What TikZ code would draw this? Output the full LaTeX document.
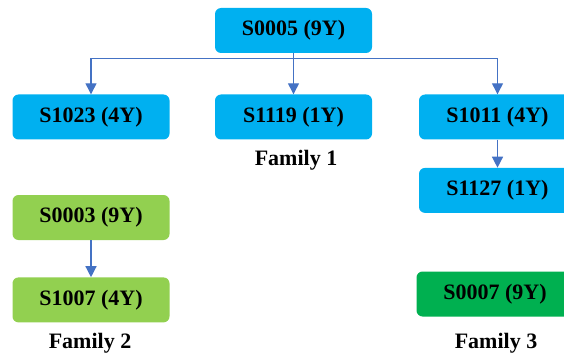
\documentclass[tikz,border=0pt]{standalone}
\usepackage{fontspec}
\setmainfont{Liberation Serif}
\usetikzlibrary{positioning, arrows.meta}
\definecolor{skyblue}{HTML}{00B0F0}
\definecolor{lightgreen}{HTML}{92D050}
\definecolor{darkgreen}{HTML}{00B050}
\definecolor{linkblue}{HTML}{4472C4}

\begin{document}
\begin{tikzpicture}[x=1pt, y=-1pt, node distance=28pt,
		sample/.style={rectangle, rounded corners=6pt, minimum width=157pt, minimum height=45pt, inner sep=0pt, font=\fontsize{22}{25}\selectfont\bfseries},
		blue/.style={sample, fill=skyblue},
		lgreen/.style={sample, fill=lightgreen},
		dgreen/.style={sample, fill=darkgreen},
		fam/.style={font=\fontsize{22}{25}\selectfont\bfseries},
		link/.style={draw=linkblue, line width=1.3pt},
		flow/.style={link, -{Triangle[width=11pt, length=11pt]}}]
		\useasboundingbox (0,0) rectangle (564,358);
		\node[blue] (s0005) at (293.5,30.5) {S0005 (9Y)};
		\node[blue] (s1023) at (91,117) {S1023 (4Y)};
		\node[blue] (s1119) at (293.5,117) {S1119 (1Y)};
		\node[blue] (s1011) at (497.5,117) {S1011 (4Y)};
		\node[blue] (s1127) [below=of s1011] {S1127 (1Y)};
		\node[fam] (fam1) at (296,160) {Family 1};
		\node[lgreen] (s0003) at (91,217.5) {S0003 (9Y)};
		\node[lgreen] (s1007) [below=37pt of s0003] {S1007 (4Y)};
		\node[fam] (fam2) at (90,343) {Family 2};
		\node[dgreen] (s0007) at (495,294) {S0007 (9Y)};
		\node[fam] (fam3) at (496,343) {Family 3};
		\path (s0005.south) ++(0,5) coordinate (bus);
		\draw[link] (s0005.south) -- (bus);
		\draw[link] (s1023.north |- bus) -- (s1011.north |- bus);
		\foreach \n in {s1023, s1119, s1011}
			\draw[flow] (\n.north |- bus) -- (\n.north);
		\draw[flow] (s1011) -- (s1127);
		\draw[flow] (s0003) -- (s1007);
	\end{tikzpicture}
\end{document}
